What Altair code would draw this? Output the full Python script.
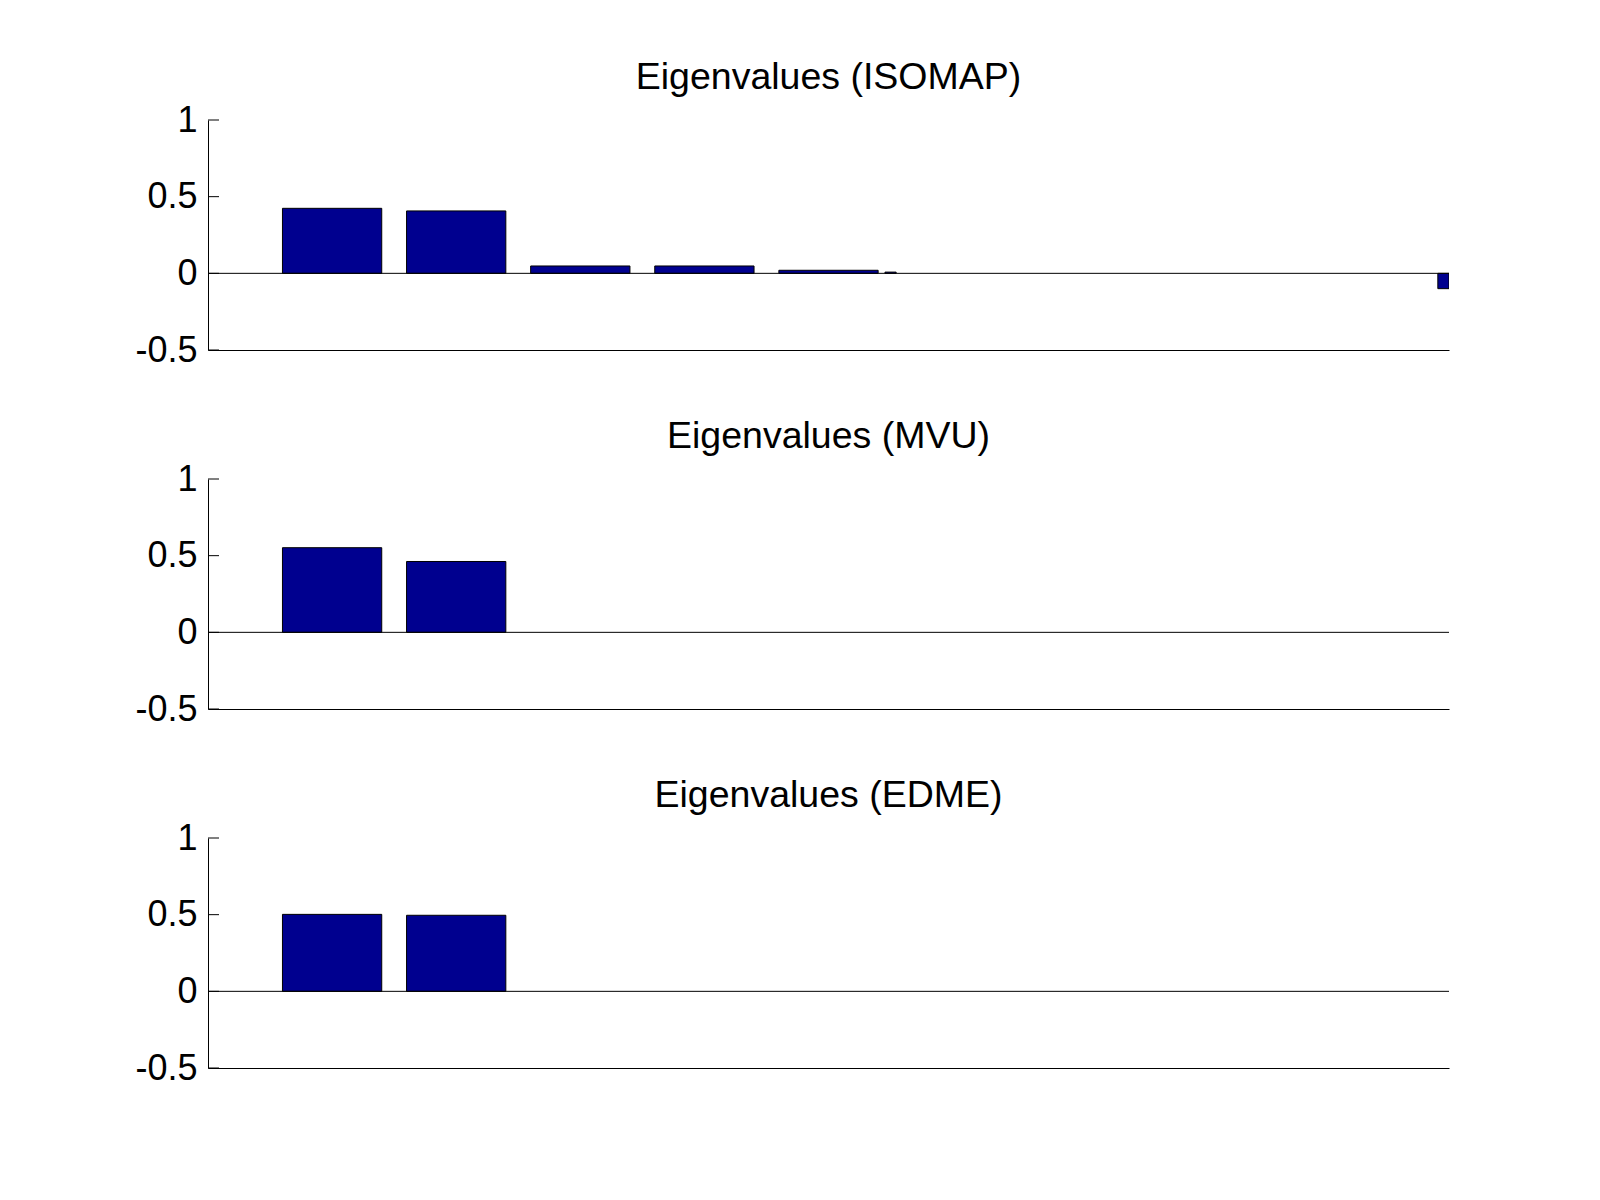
import altair as alt
import pandas as pd

# ---- data ----
panel_titles = ["Eigenvalues (ISOMAP)", "Eigenvalues (MVU)", "Eigenvalues (EDME)"]
isomap_vals = [0.424, 0.407, 0.048, 0.048, 0.020]
mvu_vals = [0.552, 0.462]
edme_vals = [0.502, 0.496]
# tiny residual bars visible in the ISOMAP panel (position, value)
isomap_resid_pos = [5.5, 9.955]
isomap_resid_vals = [0.008, -0.1]
y_ticks = [-0.5, 0, 0.5, 1]

W, H = 1241, 230
FONT = "Liberation Sans"
BAR_FILL = "#00008F"


def panel(title, vals, resid_pos=None, resid_vals=None):
    df = pd.DataFrame({"idx": list(range(1, len(vals) + 1)), "val": vals})
    xs = alt.Scale(domain=[0, 10], nice=False, zero=False)
    ys = alt.Scale(domain=[-0.5, 1], nice=False, zero=False)
    xaxis = alt.Axis(labels=False, ticks=False, grid=False, title=None,
                     domainColor="black", domainWidth=1)
    yaxis = alt.Axis(values=y_ticks, labelExpr="toString(datum.value)",
                     ticks=False, tickSize=0, grid=False, title=None,
                     labelFont=FONT, labelFontSize=36, labelColor="black",
                     labelPadding=11, domainColor="black", domainWidth=1)
    bars = alt.Chart(df).transform_calculate(
        x0="datum.idx - 0.4", x1="datum.idx + 0.4"
    ).mark_bar(fill=BAR_FILL, stroke="black", strokeWidth=1, clip=True).encode(
        x=alt.X("x0:Q", scale=xs, axis=xaxis),
        x2="x1:Q",
        y=alt.Y("val:Q", scale=ys, axis=yaxis),
        y2=alt.datum(0),
    )
    layers = [bars]
    if resid_pos:
        rdf = pd.DataFrame({"pos": resid_pos, "val": resid_vals})
        resid = alt.Chart(rdf).transform_calculate(
            x0="datum.pos - 0.045", x1="datum.pos + 0.045"
        ).mark_bar(fill=BAR_FILL, stroke="black", strokeWidth=1, clip=True).encode(
            x=alt.X("x0:Q", scale=xs), x2="x1:Q",
            y=alt.Y("val:Q", scale=ys), y2=alt.datum(0),
        )
        layers.append(resid)
    base = alt.Chart(pd.DataFrame({"y": [0]})).mark_rule(
        color="black", strokeWidth=1
    ).encode(x=alt.value(0), x2=alt.value(W), y=alt.Y("y:Q", scale=ys))
    ticks = alt.Chart(pd.DataFrame({"y": y_ticks})).mark_rule(
        color="black", strokeWidth=1
    ).encode(x=alt.value(0), x2=alt.value(11), y=alt.Y("y:Q", scale=ys))
    layers += [base, ticks]
    return alt.layer(*layers).properties(
        width=W, height=H,
        title=alt.TitleParams(title, font=FONT, fontSize=37.5, fontWeight="normal",
                              color="black", anchor="middle", frame="group",
                              baseline="alphabetic", offset=-24),
    )


chart = alt.vconcat(
    panel(panel_titles[0], isomap_vals, isomap_resid_pos, isomap_resid_vals),
    panel(panel_titles[1], mvu_vals),
    panel(panel_titles[2], edme_vals),
    spacing=49,
).properties(
    padding={"left": 126, "top": 50, "right": 10, "bottom": 10},
    background="white",
).configure_view(strokeWidth=0, stroke="transparent")

chart.save("out.html", embed_options={"renderer": "svg", "actions": False})
